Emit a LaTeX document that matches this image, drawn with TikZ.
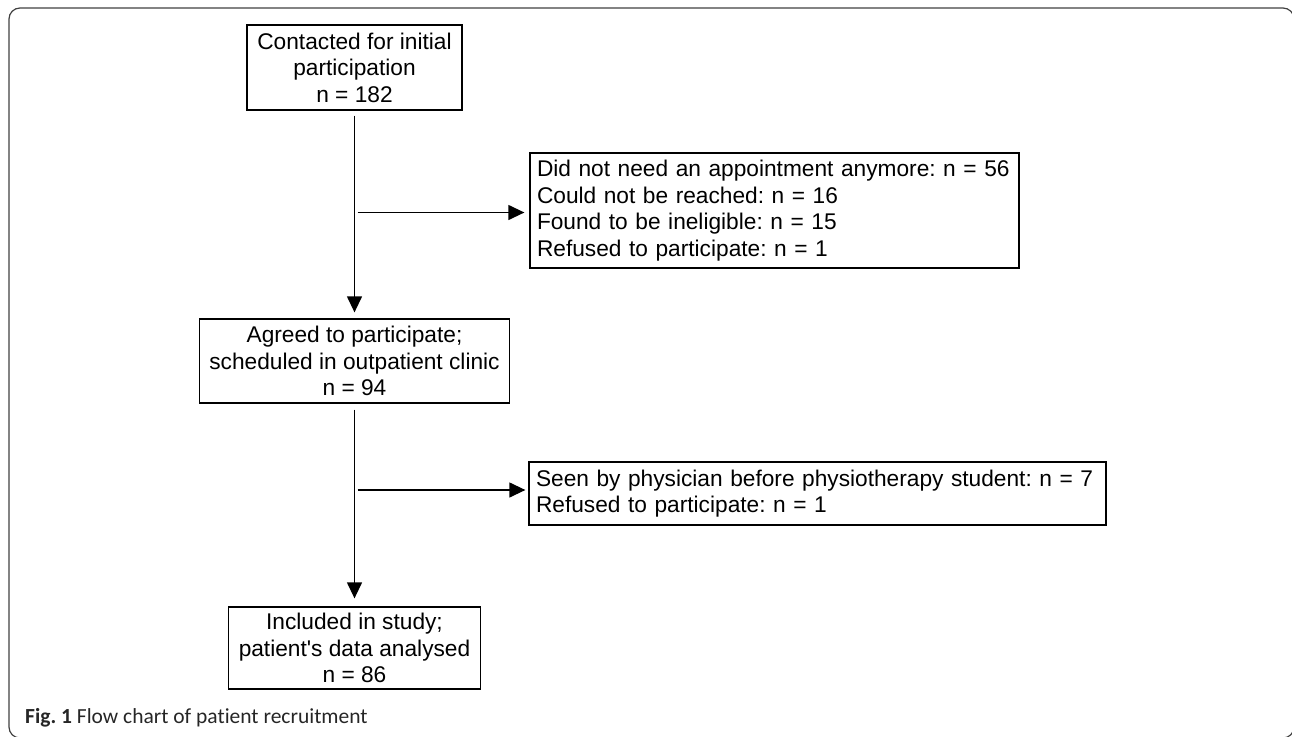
\documentclass[tikz,border=0pt]{standalone}
\usepackage{fontspec}
\newfontfamily\arialf{Liberation Sans}
\newfontfamily\capfont[Ligatures={NoCommon}]{Carlito}
\usetikzlibrary{arrows.meta}
\frenchspacing
\begin{document}
\begin{tikzpicture}[x=1pt,y=-1pt,
  box/.style={draw, line width=1.3pt, inner sep=0pt, font=\arialf\fontsize{22.7}{26.5}\selectfont},
  cbox/.style={box, align=center},
  lbox/.style={box, align=left, inner xsep=7pt},
  conn/.style={line width=1.3pt, -{Triangle[length=16pt,width=15pt]}}]
\useasboundingbox (0,0) rectangle (1292,736);
\draw[line width=1.2pt, black!75, rounded corners=11pt] (9,8) rectangle (1294,738);

\node[cbox, minimum width=215pt, minimum height=85pt] (b1) at (354.5,67.5)
  {Contacted for initial\\participation\\n = 182};
\node[cbox, minimum width=310pt, minimum height=84pt] (b2) at (354.5,361)
  {Agreed to participate;\\scheduled in outpatient clinic\\n = 94};
\node[lbox, text width=475pt, minimum height=115pt] (b3) at (774.5,210.5)
  {Did not need an appointment anymore: n = 56\\Could not be reached: n = 16\\Found to be ineligible: n = 15\\Refused to participate: n = 1};
\node[lbox, text width=563pt, minimum height=63pt] (b4) at (817.5,493.5)
  {Seen by physician before physiotherapy student: n = 7\\Refused to participate: n = 1};
\node[cbox, minimum width=252pt, minimum height=82pt] (b5) at (354.5,648)
  {Included in study;\\patient's data analysed\\n = 86};

\coordinate (s1) at (357.5,212.5);
\coordinate (s2) at (357.5,490);

\draw[conn, shorten <=5pt, shorten >=6pt] (b1) -- (b2);
\draw[conn, shorten <=6pt, shorten >=8pt] (b2) -- (b5);
\draw[conn, shorten >=5pt] (s1) -- (s1 -| b3.west);
\draw[conn, shorten >=3pt] (s2) -- (s2 -| b4.west);

\node[anchor=base west, inner sep=0pt, text=black!85, font=\capfont\fontsize{21.5}{24}\selectfont] (cap) at (25,723)
  {\textbf{Fig. 1} Flow chart of patient recruitment};
\end{tikzpicture}
\end{document}
